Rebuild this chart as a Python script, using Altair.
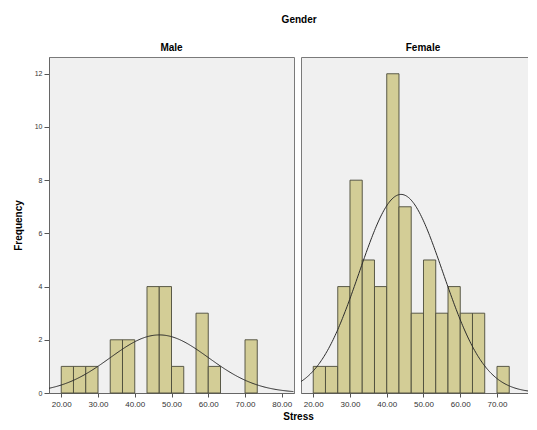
import altair as alt
import pandas as pd

# ---- data ----
groups = ["Male", "Female"]
bin_start = [20.00, 23.33, 26.67, 30.00, 33.33, 36.67, 40.00, 43.33,
             46.67, 50.00, 53.33, 56.67, 60.00, 63.33, 66.67, 70.00]
bin_width = 3.333
male_counts = [1, 1, 1, 0, 2, 2, 0, 4, 4, 1, 0, 3, 1, 0, 0, 2]
female_counts = [1, 1, 4, 8, 5, 4, 12, 7, 3, 5, 3, 4, 3, 3, 0, 1]
curve_mean = [46.7, 43.9]
curve_sd = [13.4, 11.4]
x_ticks = [[20, 30, 40, 50, 60, 70, 80], [20, 30, 40, 50, 60, 70]]
y_ticks = [0, 2, 4, 6, 8, 10, 12]
x_domains = [[16.67, 83.33], [16.67, 78.71]]   # female panel is cut at the right edge
y_domain = [0, 12.63]

FONT = "Liberation Sans"
H = 336
WIDTHS = [245, 228]
BAR_FILL = "#d3cd96"
BAR_STROKE = "#4b4b3a"


def panel(i, counts):
    df = pd.DataFrame({"start": bin_start, "count": counts})
    df["end"] = df["start"] + bin_width
    df = df[df["count"] > 0]
    n = sum(counts)
    xs = alt.Scale(domain=x_domains[i], nice=False, zero=False)
    ys = alt.Scale(domain=y_domain, nice=False, zero=True)
    first = i == 0
    xkw = dict(values=x_ticks[i], format=".2f", grid=False, labelFontSize=8,
               labelPadding=3, tickSize=4)
    if first:
        xkw.update(title="Stress", titleX=249, titlePadding=3)
    else:
        xkw.update(title=None)
    xaxis = alt.Axis(**xkw)
    if first:
        yaxis = alt.Axis(values=y_ticks, title="Frequency", grid=False,
                         labelFontSize=7, tickSize=5, labelPadding=2,
                         titlePadding=11)
    else:
        yaxis = None
    bars = alt.Chart(df).mark_bar(
        fill=BAR_FILL, stroke=BAR_STROKE, strokeWidth=0.9
    ).encode(
        x=alt.X("start:Q", scale=xs, axis=xaxis),
        x2="end:Q",
        y=alt.Y("count:Q", scale=ys, axis=yaxis),
        y2=alt.datum(0),
    )
    expr = f"{n} * {bin_width} * densityNormal(datum.x, {curve_mean[i]}, {curve_sd[i]})"
    curve = alt.Chart(
        alt.sequence(x_domains[i][0], x_domains[i][1] + 0.01, 0.25, as_="x")
    ).transform_calculate(f=expr).mark_line(
        color="#2b2b2b", strokeWidth=1, clip=True
    ).encode(
        x=alt.X("x:Q", scale=xs, axis=xaxis),
        y=alt.Y("f:Q", scale=ys, axis=yaxis),
    )
    title_kw = dict(font=FONT, fontSize=10, fontWeight="bold", offset=4,
                    anchor="middle")
    if not first:
        title_kw["dx"] = 8
    return alt.layer(bars, curve).properties(
        width=WIDTHS[i], height=H,
        title=alt.TitleParams(groups[i], **title_kw),
    )


chart = alt.hconcat(
    panel(0, male_counts), panel(1, female_counts), spacing=7, bounds="flush"
).properties(
    title=alt.TitleParams("Gender", font=FONT, fontSize=10, fontWeight="bold",
                          anchor="middle", offset=18, dx=28),
    padding={"left": 4, "top": 6, "right": -2, "bottom": -2},
    background="white",
).configure_view(
    fill="#f0f0f0", stroke="#7a7a7a", strokeWidth=1
).configure_axis(
    labelFont=FONT, labelColor="#333333", tickColor="#555555",
    domainColor="#666666", titleFont=FONT, titleFontSize=10,
    titleFontWeight="bold", titleColor="#000000",
)

chart.save("out.html", embed_options={"renderer": "svg", "actions": False})
